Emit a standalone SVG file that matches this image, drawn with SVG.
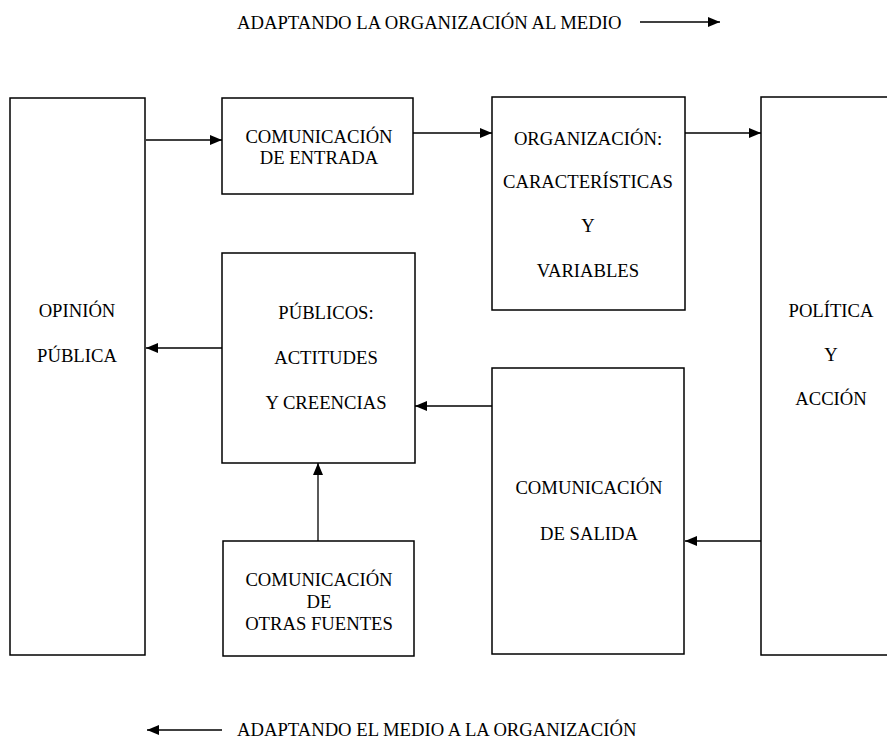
<svg xmlns="http://www.w3.org/2000/svg" width="887" height="741" viewBox="0 0 887 741">
  <style>
    .box { fill: #ffffff; stroke: #000000; stroke-width: 1.5; }
    text { font-family: "Liberation Serif", "Times New Roman", Times, serif; font-size: 18.67px; fill: #000000; }
    .lbl { text-anchor: middle; }
    .wire { fill: none; stroke: #000000; stroke-width: 1.3; }
  </style>
  <defs>
    <marker id="arrow" markerUnits="userSpaceOnUse" markerWidth="13" markerHeight="11" refX="12" refY="5" orient="auto">
      <path d="M0,0 L12,5 L0,10 z" fill="#000000"/>
    </marker>
  </defs>
  <rect width="887" height="741" fill="#ffffff"/>

  <!-- captions -->
  <g id="caption-top">
    <text x="237" y="29">ADAPTANDO LA ORGANIZACIÓN AL MEDIO</text>
  </g>
  <g id="caption-bottom">
    <text x="237" y="736">ADAPTANDO EL MEDIO A LA ORGANIZACIÓN</text>
  </g>

  <!-- nodes -->
  <g id="opinion-publica">
    <rect class="box" x="10" y="98" width="135" height="557"/>
    <text class="lbl" x="77" y="317">OPINIÓN</text>
    <text class="lbl" x="77" y="362">PÚBLICA</text>
  </g>
  <g id="comunicacion-entrada">
    <rect class="box" x="222" y="98" width="191" height="96"/>
    <text class="lbl" x="319" y="143">COMUNICACIÓN</text>
    <text class="lbl" x="319" y="164">DE ENTRADA</text>
  </g>
  <g id="organizacion">
    <rect class="box" x="492" y="97" width="193" height="213"/>
    <text class="lbl" x="588" y="145">ORGANIZACIÓN:</text>
    <text class="lbl" x="588" y="188">CARACTERÍSTICAS</text>
    <text class="lbl" x="588" y="232">Y</text>
    <text class="lbl" x="588" y="277">VARIABLES</text>
  </g>
  <g id="politica-accion">
    <rect class="box" x="761" y="97" width="200" height="558"/>
    <text class="lbl" x="831" y="317">POLÍTICA</text>
    <text class="lbl" x="831" y="361">Y</text>
    <text class="lbl" x="831" y="405">ACCIÓN</text>
  </g>
  <g id="publicos">
    <rect class="box" x="222" y="253" width="193" height="210"/>
    <text class="lbl" x="326" y="319">PÚBLICOS:</text>
    <text class="lbl" x="326" y="364">ACTITUDES</text>
    <text class="lbl" x="326" y="409">Y CREENCIAS</text>
  </g>
  <g id="comunicacion-salida">
    <rect class="box" x="492" y="368" width="192" height="286"/>
    <text class="lbl" x="589" y="494">COMUNICACIÓN</text>
    <text class="lbl" x="589" y="540">DE SALIDA</text>
  </g>
  <g id="otras-fuentes">
    <rect class="box" x="223" y="541" width="191" height="115"/>
    <text class="lbl" x="319" y="586">COMUNICACIÓN</text>
    <text class="lbl" x="319" y="608">DE</text>
    <text class="lbl" x="319" y="630">OTRAS FUENTES</text>
  </g>

  <!-- connectors -->
  <g id="connectors">
    <line class="wire" x1="146" y1="140" x2="222" y2="140" marker-end="url(#arrow)"/>
    <line class="wire" x1="413" y1="133" x2="492" y2="133" marker-end="url(#arrow)"/>
    <line class="wire" x1="685" y1="133" x2="761" y2="133" marker-end="url(#arrow)"/>
    <line class="wire" x1="222" y1="348" x2="146" y2="348" marker-end="url(#arrow)"/>
    <line class="wire" x1="492" y1="406" x2="415" y2="406" marker-end="url(#arrow)"/>
    <line class="wire" x1="761" y1="541" x2="685" y2="541" marker-end="url(#arrow)"/>
    <line class="wire" x1="318" y1="541" x2="318" y2="463" marker-end="url(#arrow)"/>
    <line class="wire" x1="640" y1="22" x2="720" y2="22" marker-end="url(#arrow)"/>
    <line class="wire" x1="222" y1="730" x2="147" y2="730" marker-end="url(#arrow)"/>
  </g>
</svg>
